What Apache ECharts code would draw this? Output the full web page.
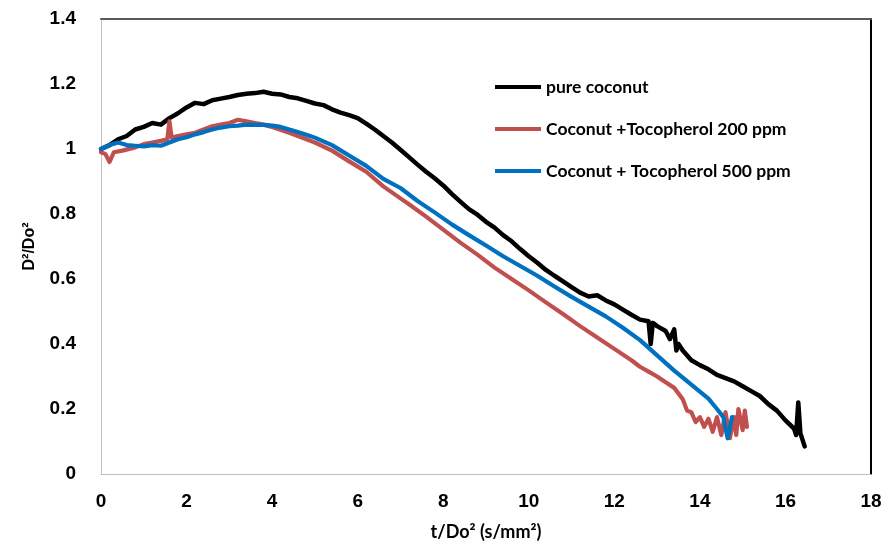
<!DOCTYPE html>
<html><head><meta charset="utf-8">
<script src="https://cdn.jsdelivr.net/npm/echarts@6/dist/echarts.min.js"></script>
<style>html,body{margin:0;padding:0;background:#fff}#c{width:893px;height:546px}</style>
</head><body><div id="c"></div>
<script>
const seriesNames = ['pure coconut', 'Coconut +Tocopherol 200 ppm', 'Coconut + Tocopherol 500 ppm'];
const xTicks = [0, 2, 4, 6, 8, 10, 12, 14, 16, 18];
const yTicks = [0, 0.2, 0.4, 0.6, 0.8, 1, 1.2, 1.4];

const pureCoconut = [
[0,1.000],[0.2,1.012],[0.4,1.030],[0.6,1.040],[0.8,1.060],[1.0,1.068],[1.2,1.080],[1.4,1.075],
[1.6,1.095],[1.8,1.110],[2.0,1.128],[2.2,1.142],[2.4,1.138],[2.6,1.150],[2.8,1.155],[3.0,1.160],
[3.2,1.166],[3.4,1.170],[3.6,1.172],[3.8,1.176],[4.0,1.170],[4.2,1.168],[4.4,1.160],[4.6,1.156],
[4.8,1.148],[5.0,1.140],[5.2,1.135],[5.4,1.122],[5.6,1.112],[5.8,1.104],[6.0,1.095],[6.2,1.078],
[6.4,1.060],[6.6,1.040],[6.8,1.020],[7.0,0.998],[7.2,0.975],[7.4,0.952],[7.6,0.930],[7.8,0.910],
[8.0,0.888],[8.2,0.862],[8.4,0.838],[8.6,0.815],[8.8,0.798],[9.0,0.776],[9.2,0.758],[9.4,0.735],
[9.6,0.716],[9.8,0.692],[10.0,0.670],[10.2,0.650],[10.4,0.628],[10.6,0.610],[10.8,0.593],[11.0,0.575],
[11.2,0.558],[11.4,0.546],[11.6,0.550],[11.8,0.534],[12.0,0.522],[12.2,0.506],[12.4,0.490],[12.6,0.475],
[12.8,0.470],[12.85,0.400],[12.9,0.465],[13.0,0.455],[13.2,0.440],[13.3,0.415],[13.4,0.445],[13.45,0.380],
[13.5,0.400],[13.6,0.380],[13.8,0.350],[14.0,0.335],[14.2,0.322],[14.4,0.305],[14.6,0.295],[14.8,0.285],
[15.0,0.270],[15.2,0.255],[15.4,0.240],[15.6,0.215],[15.8,0.195],[16.0,0.165],[16.2,0.140],[16.25,0.120],
[16.3,0.220],[16.35,0.125],[16.45,0.085]
];
const toco200 = [
[0,0.990],[0.1,0.985],[0.2,0.960],[0.3,0.990],[0.5,0.995],[0.8,1.005],[1.0,1.015],[1.2,1.020],
[1.4,1.025],[1.55,1.030],[1.6,1.085],[1.65,1.035],[1.8,1.040],[2.0,1.045],[2.2,1.050],[2.4,1.060],
[2.6,1.070],[2.8,1.075],[3.0,1.080],[3.2,1.090],[3.4,1.085],[3.6,1.080],[3.8,1.075],[4.0,1.068],
[4.4,1.050],[4.8,1.030],[5.0,1.020],[5.4,0.995],[5.8,0.962],[6.2,0.930],[6.6,0.885],[7.0,0.848],
[7.2,0.830],[7.6,0.792],[8.0,0.752],[8.4,0.712],[8.8,0.675],[9.2,0.635],[9.6,0.600],[10.0,0.565],
[10.4,0.528],[10.8,0.492],[11.2,0.455],[11.6,0.420],[12.0,0.385],[12.4,0.350],[12.6,0.330],[12.8,0.315],
[13.0,0.300],[13.2,0.282],[13.4,0.265],[13.6,0.230],[13.7,0.195],[13.8,0.190],[13.9,0.160],[14.0,0.175],
[14.1,0.145],[14.2,0.170],[14.3,0.130],[14.4,0.175],[14.5,0.120],[14.6,0.190],[14.7,0.110],[14.8,0.175],
[14.85,0.120],[14.9,0.200],[15.0,0.135],[15.05,0.195],[15.1,0.145]
];
const toco500 = [
[0,1.000],[0.2,1.012],[0.4,1.020],[0.6,1.012],[0.8,1.010],[1.0,1.008],[1.2,1.012],[1.4,1.010],
[1.6,1.020],[1.8,1.030],[2.0,1.036],[2.2,1.045],[2.4,1.052],[2.6,1.060],[2.8,1.066],[3.0,1.070],
[3.2,1.072],[3.4,1.075],[3.6,1.074],[3.8,1.074],[4.0,1.072],[4.2,1.068],[4.4,1.060],[4.6,1.052],
[4.8,1.044],[5.0,1.035],[5.4,1.012],[5.8,0.980],[6.2,0.948],[6.6,0.908],[7.0,0.880],[7.4,0.840],
[7.8,0.805],[8.2,0.768],[8.6,0.735],[9.0,0.703],[9.4,0.670],[9.8,0.640],[10.2,0.610],[10.6,0.577],
[11.0,0.545],[11.4,0.515],[11.8,0.485],[12.2,0.450],[12.6,0.412],[13.0,0.365],[13.4,0.318],[13.8,0.275],
[14.2,0.232],[14.4,0.200],[14.55,0.175],[14.6,0.140],[14.65,0.110],[14.7,0.140],[14.75,0.175]
];

const colors = ['#000000', '#C0504D', '#0070C0'];
const chart = echarts.init(document.getElementById('c'));
const tickFont = {fontFamily: "'Liberation Sans Narrow','Liberation Sans',Arial,sans-serif", fontWeight: 'bold', fontSize: 19, color: '#000'};
const mk = (name, data, color, w) => ({
  name, type: 'line', data, showSymbol: false, symbol: 'none',
  lineStyle: {color, width: w, join: 'round', cap: 'round'}, itemStyle: {color}, smooth: false, animation: false, z: 3
});
chart.setOption({
  animation: false,
  grid: {left: 101, right: 22, top: 19, bottom: 72, containLabel: false},
  legend: {
    orient: 'vertical', left: 490, top: 73, itemGap: 24, itemWidth: 46, itemHeight: 4, icon: 'rect',
    textStyle: {fontFamily: "Lato, 'Open Sans', sans-serif", fontWeight: 'bold', fontSize: 17.5, color: '#000'},
    data: seriesNames
  },
  xAxis: [{
    type: 'value', min: 0, max: 18, interval: 2,
    axisLine: {show: true, lineStyle: {color: '#bfbfbf', width: 1}},
    axisTick: {show: false}, splitLine: {show: false},
    axisLabel: Object.assign({margin: 18}, tickFont),
    name: 't/Do² (s/mm²)', nameLocation: 'middle', nameGap: 49,
    nameTextStyle: {fontFamily: "Lato, 'Open Sans', sans-serif", fontWeight: 'bold', fontSize: 18, color: '#000'}
  }, {
    type: 'value', position: 'top', min: 0, max: 18, interval: 2,
    axisLine: {show: true, onZero: false, lineStyle: {color: '#595959', width: 2}},
    axisTick: {show: false}, axisLabel: {show: false}, splitLine: {show: false}
  }],
  yAxis: [{
    type: 'value', min: 0, max: 1.4, interval: 0.2,
    axisLine: {show: true, lineStyle: {color: '#bfbfbf', width: 1}},
    axisTick: {show: false}, splitLine: {show: false},
    axisLabel: Object.assign({margin: 25, formatter: v => String(Math.round(v*10)/10)}, tickFont),
    name: 'D²/Do²', nameLocation: 'middle', nameGap: 63, nameRotate: 90,
    nameTextStyle: {fontFamily: "'Liberation Sans',Arial,sans-serif", fontWeight: 'bold', fontSize: 16, color: '#000'}
  }, {
    type: 'value', position: 'right', min: 0, max: 1.4, interval: 0.2,
    axisLine: {show: true, onZero: false, lineStyle: {color: '#000', width: 2}},
    axisTick: {show: false}, axisLabel: {show: false}, splitLine: {show: false}
  }],
  series: [
    mk(seriesNames[0], pureCoconut, colors[0], 4.5),
    mk(seriesNames[1], toco200, colors[1], 4.2),
    mk(seriesNames[2], toco500, colors[2], 4.2)
  ]
});
</script></body></html>
